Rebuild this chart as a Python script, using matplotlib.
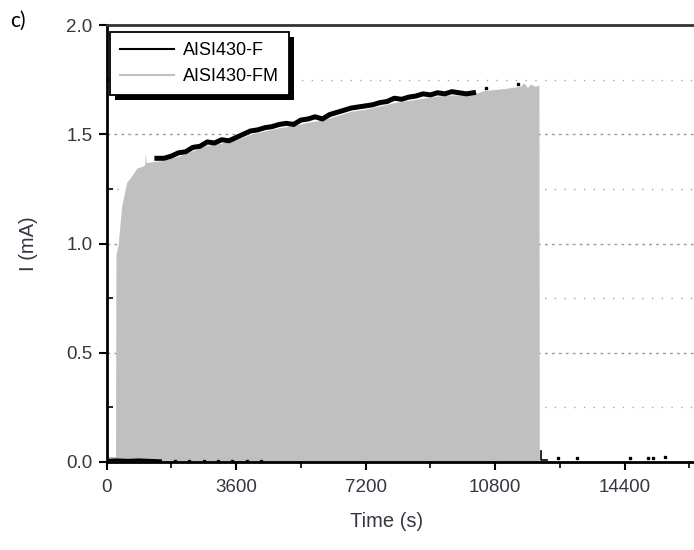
import matplotlib
matplotlib.use("Agg")
import matplotlib.pyplot as plt
from matplotlib.lines import Line2D
from matplotlib.patches import Rectangle
from matplotlib.ticker import MultipleLocator, FixedLocator


# AISI430-F, upper noisy band (visible above the grey area)
f_time = [1400, 1600, 1800, 2000, 2200, 2400, 2600, 2800, 3000, 3200,
          3400, 3600, 3800, 4000, 4200, 4400, 4600, 4800, 5000, 5200,
          5400, 5600, 5800, 6000, 6200, 6400, 6600, 6800, 7000, 7200,
          7400, 7600, 7800, 8000, 8200, 8400, 8600, 8800, 9000, 9200,
          9400, 9600, 9800, 10000, 10200]
f_current = [1.39, 1.39, 1.40, 1.415, 1.42, 1.44, 1.445, 1.465, 1.46, 1.475,
             1.47, 1.485, 1.50, 1.515, 1.52, 1.53, 1.535, 1.545, 1.55, 1.545,
             1.565, 1.57, 1.58, 1.57, 1.59, 1.60, 1.61, 1.62, 1.625, 1.63,
             1.635, 1.645, 1.65, 1.665, 1.66, 1.67, 1.675, 1.685, 1.68, 1.69,
             1.685, 1.695, 1.69, 1.685, 1.69]

# AISI430-F, near-zero parts
f_low_time = [0, 300, 600, 900, 1200, 1500]
f_low_current = [0.008, 0.01, 0.008, 0.01, 0.008, 0.006]
f_dots_time = [1900, 2300, 2700, 3100, 3500, 3900, 4300,
               10550, 11450,
               12550, 13070, 14550, 15050, 15190, 15530]
f_dots_current = [0.006, 0.005, 0.006, 0.005, 0.006, 0.005, 0.005,
                  1.71, 1.73,
                  0.02, 0.02, 0.02, 0.02, 0.02, 0.025]
f_tail_time = [12090, 12090, 12250]
f_tail_current = [0.05, 0.008, 0.008]

# AISI430-FM, top envelope of the grey area
fm_time = [0, 250, 262, 320, 420, 560, 700, 840, 1010, 1060,
           1080, 1100, 1300, 1570, 2000, 2400, 2800, 3200, 3600, 4000,
           4400, 4800, 5200, 5600, 6000, 6400, 6800, 7200, 7600, 8000,
           8400, 8800, 9200, 9600, 10000, 10300, 10500, 10800, 11100, 11300,
           11500, 11600, 11700, 11800, 11900, 12020, 12030]
fm_current = [0.025, 0.025, 0.95, 0.99, 1.17, 1.28, 1.31, 1.345, 1.355, 1.36,
              1.42, 1.37, 1.375, 1.38, 1.40, 1.425, 1.45, 1.46, 1.475, 1.50,
              1.515, 1.53, 1.54, 1.555, 1.565, 1.585, 1.605, 1.615, 1.63, 1.645,
              1.655, 1.665, 1.675, 1.68, 1.68, 1.69, 1.70, 1.705, 1.71, 1.715,
              1.72, 1.735, 1.715, 1.73, 1.72, 1.725, 0.0]

x_ticks = [0, 3600, 7200, 10800, 14400]
x_tick_labels = ["0", "3600", "7200", "10800", "14400"]
y_ticks = [0.0, 0.5, 1.0, 1.5, 2.0]
y_tick_labels = ["0.0", "0.5", "1.0", "1.5", "2.0"]

GREY = "#c0c0c0"
TEXT = "#3a3440"

plt.rcParams["font.family"] = ["Liberation Sans", "DejaVu Sans"]

fig = plt.figure(figsize=(6.94, 5.5), dpi=100)
ax = fig.add_axes([0.1535, 0.16, 0.8465, 0.7945])

ax.fill_between(fm_time, 0, fm_current, color=GREY, lw=0, zorder=2)
ax.plot(f_time, f_current, color="black", lw=3.6, zorder=3)
ax.plot(f_low_time, f_low_current, color="black", lw=2.0, zorder=3)
ax.plot(f_tail_time, f_tail_current, color="black", lw=1.2, zorder=3)
ax.plot(f_dots_time, f_dots_current, ls="none", marker="s", ms=2.0,
        color="black", zorder=3)

ax.set_xlim(0, 16330)
ax.set_ylim(0, 2.0)

ax.xaxis.set_major_locator(FixedLocator(x_ticks))
ax.set_xticklabels(x_tick_labels)
ax.xaxis.set_minor_locator(MultipleLocator(1800))
ax.yaxis.set_major_locator(FixedLocator(y_ticks))
ax.set_yticklabels(y_tick_labels)
ax.yaxis.set_minor_locator(MultipleLocator(0.25))

ax.tick_params(axis="x", which="major", direction="out", length=6, width=1.5,
               labelsize=13.5, labelcolor=TEXT, pad=6)
ax.tick_params(axis="x", which="minor", direction="out", length=4, width=1.2)
ax.tick_params(axis="y", which="major", direction="out", length=6, width=1.5,
               labelsize=13.5, labelcolor=TEXT, pad=4)
ax.tick_params(axis="y", which="minor", direction="in", length=4, width=1.2)

ax.set_axisbelow(True)
ax.grid(axis="y", which="major", color="#9a9a9a", lw=1.0, ls=(0, (2, 3)))
ax.grid(axis="y", which="minor", color="#a8a8a8", lw=1.0, ls=(0, (1, 6)))
ax.grid(axis="x", which="both", visible=False)

for side in ["left", "bottom"]:
    ax.spines[side].set_linewidth(2.0)
    ax.spines[side].set_color("black")
ax.spines["top"].set_linewidth(2.0)
ax.spines["top"].set_color("#333333")
ax.spines["right"].set_visible(False)

ax.set_xlabel("Time (s)", fontsize=14.5, color=TEXT)
ax.set_ylabel("I (mA)", fontsize=14.5, color=TEXT)
ax.xaxis.set_label_coords(0.476, -0.115)
ax.yaxis.set_label_coords(-0.117, 0.5)

handles = [Line2D([], [], color="black", lw=1.5),
           Line2D([], [], color=GREY, lw=1.5)]
leg = ax.legend(handles, ["AISI430-F", "AISI430-FM"], loc="upper left",
                bbox_to_anchor=(0.006, 0.984), borderaxespad=0, fontsize=13,
                handlelength=3.0, handletextpad=0.5, labelspacing=0.5,
                borderpad=0.55, fancybox=False, framealpha=1)
leg.get_frame().set_edgecolor("black")
leg.get_frame().set_linewidth(1.3)
leg.set_zorder(6)

# solid offset shadow behind the legend box
fig.canvas.draw()
bb = leg.get_window_extent().transformed(ax.transAxes.inverted())
dx = 5 / (ax.bbox.width)
dy = 5 / (ax.bbox.height)
ax.add_patch(Rectangle((bb.x0 + dx, bb.y0 - dy), bb.width, bb.height,
                       transform=ax.transAxes, facecolor="black",
                       edgecolor="none", zorder=5.5, clip_on=False))

fig.text(0.014, 0.952, "c)", fontsize=15, family=["Lato", "DejaVu Sans"])

fig.savefig("out.png", dpi=100)
